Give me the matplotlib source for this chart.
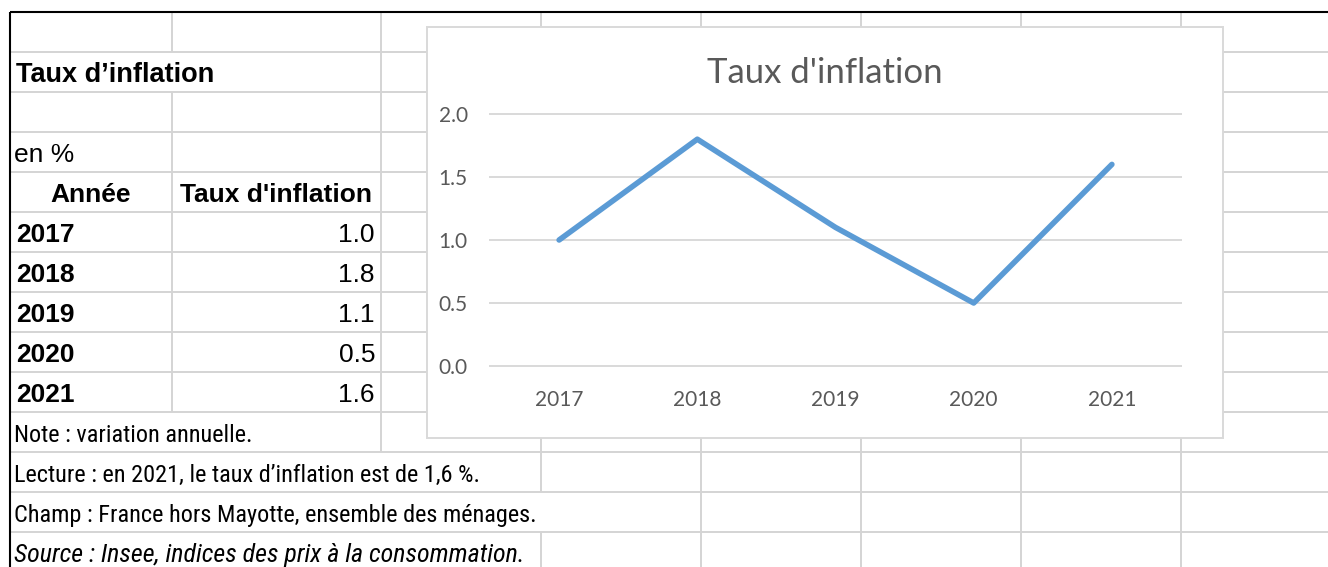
import matplotlib
matplotlib.use('Agg')
import matplotlib.pyplot as plt
from matplotlib import font_manager as fm
from matplotlib.patches import Rectangle

# data
years = ['2017', '2018', '2019', '2020', '2021']
inflation = [1.0, 1.8, 1.1, 0.5, 1.6]
y_ticks = [0.0, 0.5, 1.0, 1.5, 2.0]

sheet_title = 'Taux d’inflation'
unit_label = 'en %'
col_headers = ['Année', "Taux d'inflation"]
chart_title = "Taux d'inflation"
notes = ['Note : variation annuelle.',
         'Lecture : en 2021, le taux d’inflation est de 1,6 %.',
         'Champ : France hors Mayotte, ensemble des ménages.',
         'Source : Insee, indices des prix à la consommation.']

W, H = 1328, 567
fig = plt.figure(figsize=(W / 100, H / 100), dpi=100)

# spreadsheet background, in pixel coords
sheet = fig.add_axes([0, 0, 1, 1])
sheet.set_xlim(0, W)
sheet.set_ylim(H, 0)
sheet.axis('off')

row_y = [12 + 40 * i for i in range(15)]
col_x = [10, 172, 381, 541, 701, 861, 1021, 1181]
grid_c = '#d4d4d4'
# vertical lines hidden by overflowing text
hidden = {1: [172], 10: [172], 11: [172, 381], 12: [172, 381, 541], 13: [172, 381]}
for y in row_y[1:]:
    sheet.plot([10, W], [y, y], color=grid_c, lw=1.4, solid_capstyle='butt')
for i in range(len(row_y) - 1):
    for x in col_x[1:]:
        if x in hidden.get(i, []):
            continue
        sheet.plot([x, x], [row_y[i], row_y[i + 1]], color=grid_c, lw=1.4, solid_capstyle='butt')
sheet.plot([10, W], [12, 12], color='black', lw=1.5, solid_capstyle='butt')
sheet.plot([10, 10], [12, H], color='black', lw=1.5, solid_capstyle='butt')

tf = ['Liberation Sans', 'DejaVu Sans']
fs = 19
base = 30  # baseline offset inside a row

# notes are in a narrow face; if none is installed, shrink the regular one
narrow = None
for name in ['Liberation Sans Narrow', 'Arial Narrow', 'DejaVu Sans Condensed',
             'Roboto Condensed', 'Open Sans Condensed']:
    try:
        fm.findfont(fm.FontProperties(family=name), fallback_to_default=False)
        narrow = name
        break
    except ValueError:
        pass
if narrow:
    nf, nfs, ifs = [narrow, 'Liberation Sans'], 17.5, 18.7
else:
    nf, nfs, ifs = tf, 15.2, 15.2

sheet.text(16, row_y[1] + base, sheet_title, family=tf, fontsize=fs + 0.5, weight='bold', va='baseline')
sheet.text(14, row_y[3] + base, unit_label, family=tf, fontsize=fs, va='baseline')
sheet.text(91, row_y[4] + base, col_headers[0], family=tf, fontsize=fs, weight='bold', va='baseline', ha='center')
sheet.text(276.5, row_y[4] + base, col_headers[1], family=tf, fontsize=fs, weight='bold', va='baseline', ha='center')
for i, (yr, v) in enumerate(zip(years, inflation)):
    sheet.text(16, row_y[5 + i] + base, yr, family=tf, fontsize=fs, weight='bold', va='baseline')
    sheet.text(375, row_y[5 + i] + base, f'{v:.1f}', family=tf, fontsize=fs, va='baseline', ha='right')
for i, t in enumerate(notes):
    if t.startswith('Source'):
        sheet.text(14, row_y[10 + i] + base, t, family=nf, fontsize=ifs, style='italic', va='baseline')
    else:
        sheet.text(14, row_y[10 + i] + base, t, family=nf, fontsize=nfs, va='baseline')

# chart box
sheet.add_patch(Rectangle((427, 27), 1223 - 427, 438 - 27, facecolor='white',
                          edgecolor='#d9d9d9', lw=1.4, zorder=5))
cf = ['Lato', 'DejaVu Sans']
sheet.text(825, 73, chart_title, family=cf, fontsize=25, color='#595959',
           ha='center', va='center', zorder=7)

# line chart
ax = fig.add_axes([490 / W, 1 - 366 / H, (1181 - 490) / W, (366 - 114) / H])
ax.set_facecolor('none')
ax.plot(range(len(years)), inflation, color='#5B9BD5', lw=4,
        solid_capstyle='round', solid_joinstyle='round', zorder=3)
ax.set_xlim(-0.5, len(years) - 0.5)
ax.set_ylim(0, 2)
ax.set_xticks(range(len(years)))
ax.set_xticklabels(years)
ax.set_yticks(y_ticks)
ax.set_yticklabels([f'{t:.1f}' for t in y_ticks])
ax.grid(axis='y', color='#d9d9d9', lw=1.4)
for gl in ax.get_ygridlines():
    gl.set_clip_on(False)
for s in ax.spines.values():
    s.set_visible(False)
ax.tick_params(length=0, labelcolor='#595959', labelsize=15)
ax.tick_params(axis='x', pad=17)
ax.tick_params(axis='y', pad=16)
for lab in ax.get_xticklabels() + ax.get_yticklabels():
    lab.set_family(cf)

fig.savefig('out.png', dpi=100)
